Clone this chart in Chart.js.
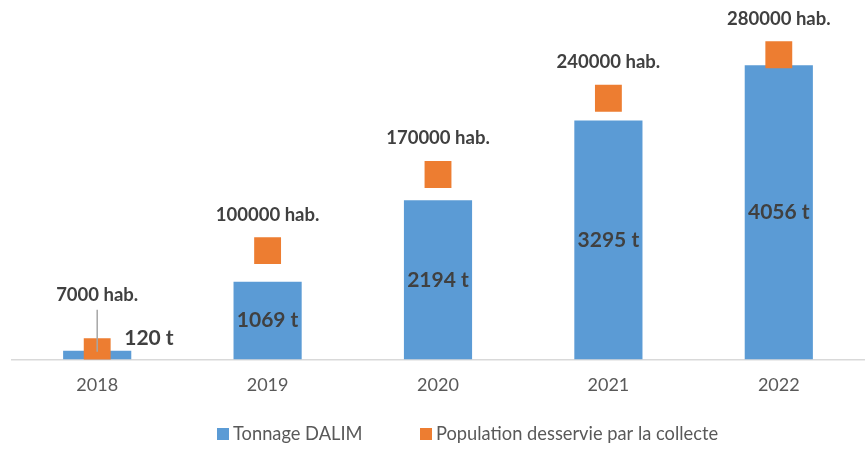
<!DOCTYPE html>
<html>
<head>
<meta charset="utf-8">
<script src="https://cdn.jsdelivr.net/npm/chart.js@4"></script>
<style>
  html, body { margin: 0; padding: 0; background: #fff; }
  #wrap { width: 868px; height: 462px; }
</style>
</head>
<body>
<div id="wrap"><canvas id="chart"></canvas></div>
<script>
// valeurs
var annees = ["2018", "2019", "2020", "2021", "2022"];
var tonnage = [120, 1069, 2194, 3295, 4056];
var population = [7000, 100000, 170000, 240000, 280000];

var bleu = "#5B9BD5";
var orange = "#ED7D31";
var gris = "#595959";
var police = "Lato, 'Liberation Sans', sans-serif";

// étiquettes de données (valeurs des barres et des carrés)
var etiquettes = {
  id: "etiquettes",
  afterDatasetsDraw: function (chart) {
    var ctx = chart.ctx;
    var barres = chart.getDatasetMeta(0).data;
    var points = chart.getDatasetMeta(1).data;
    ctx.save();
    ctx.fillStyle = "#404040";
    ctx.textAlign = "center";
    ctx.textBaseline = "middle";

    // tonnage
    ctx.font = "bold 21px " + police;
    barres.forEach(function (b, i) {
      var txt = tonnage[i] + " t";
      if (b.base - b.y < 30) {
        ctx.textAlign = "left";
        ctx.fillText(txt, b.x + 27, b.y - 12);
        ctx.textAlign = "center";
      } else {
        ctx.fillText(txt, b.x, (b.y + b.base) / 2);
      }
    });

    // population
    ctx.font = "bold 18.5px " + police;
    points.forEach(function (p, i) {
      var txt = population[i] + " hab.";
      if (i === 0) {
        var ly = p.y - 57;
        ctx.fillText(txt, p.x, ly);
        ctx.strokeStyle = "#A6A6A6";
        ctx.lineWidth = 1.5;
        ctx.beginPath();
        ctx.moveTo(p.x, ly + 15);
        ctx.lineTo(p.x, p.y);
        ctx.stroke();
      } else {
        ctx.fillText(txt, p.x, p.y - 36);
      }
    });
    ctx.restore();
  }
};

// légende dessinée à la main pour garder l'espacement de l'original
var legende = {
  id: "legende",
  afterDraw: function (chart) {
    var ctx = chart.ctx;
    var items = chart.data.datasets.map(function (ds) {
      return { texte: ds.label, couleur: ds.backgroundColor };
    });
    var xs = [217, 420];
    var y = 434;
    ctx.save();
    ctx.font = "18.3px " + police;
    ctx.textBaseline = "middle";
    items.forEach(function (it, i) {
      ctx.fillStyle = it.couleur;
      ctx.fillRect(xs[i], y - 6, 12, 12);
      ctx.fillStyle = gris;
      ctx.fillText(it.texte, xs[i] + 16, y);
    });
    ctx.restore();
  }
};

new Chart(document.getElementById("chart"), {
  data: {
    labels: annees,
    datasets: [
      {
        type: "bar",
        label: "Tonnage DALIM",
        data: tonnage,
        backgroundColor: bleu,
        borderWidth: 0,
        yAxisID: "y",
        barPercentage: 0.4,
        categoryPercentage: 1,
        order: 1
      },
      {
        type: "line",
        label: "Population desservie par la collecte",
        data: population,
        showLine: false,
        pointStyle: "rect",
        pointRadius: 19,
        pointHoverRadius: 19,
        pointBackgroundColor: orange,
        pointBorderWidth: 0,
        backgroundColor: orange,
        borderColor: orange,
        yAxisID: "y2",
        order: 0
      }
    ]
  },
  options: {
    responsive: true,
    maintainAspectRatio: false,
    animation: false,
    events: [],
    layout: { autoPadding: false, padding: { left: 12, right: 4, top: 33, bottom: 59 } },
    scales: {
      x: {
        grid: { display: false },
        border: { display: true, color: "#D9D9D9", width: 1.5 },
        ticks: { color: gris, font: { family: police, size: 18 }, padding: 7 }
      },
      y: { display: false, min: 0, max: 4500 },
      y2: { display: false, min: 0, max: 300000 }
    },
    plugins: {
      tooltip: { enabled: false },
      legend: { display: false }
    }
  },
  plugins: [etiquettes, legende]
});
</script>
</body>
</html>
